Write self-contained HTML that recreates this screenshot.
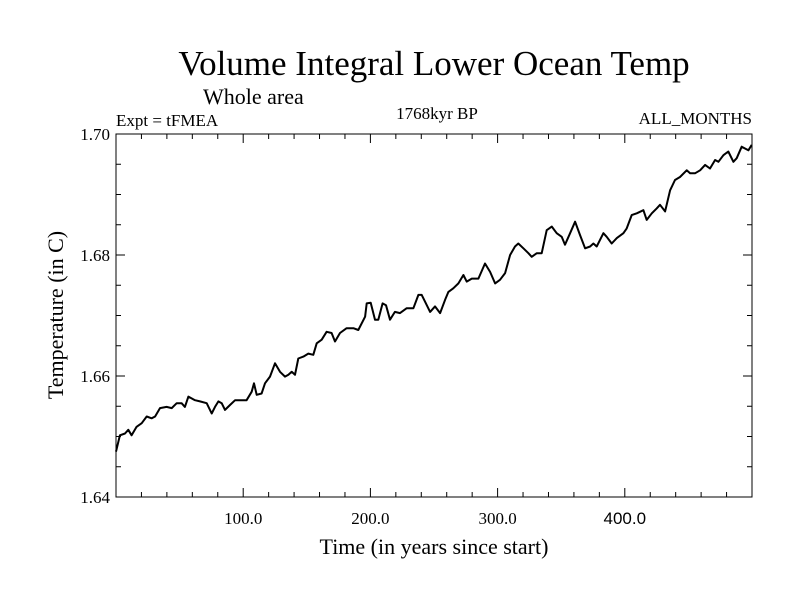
<!DOCTYPE html>
<html><head><meta charset="utf-8"><style>
body{margin:0;background:#fff;}
svg{display:block;}
text{font-family:"Liberation Serif",serif;fill:#000;}
</style></head><body>
<svg id="chart" width="800" height="600" viewBox="0 0 800 600">
<text x="434" y="75" font-size="35" text-anchor="middle">Volume Integral Lower Ocean Temp</text>
<text x="203" y="104" font-size="22">Whole area</text>
<text x="116" y="126" font-size="17">Expt = tFMEA</text>
<text x="437" y="119" font-size="17" text-anchor="middle">1768kyr BP</text>
<text x="752" y="124" font-size="17" text-anchor="end">ALL_MONTHS</text>
<text x="434" y="554" font-size="22" text-anchor="middle">Time (in years since start)</text>
<text transform="translate(63,315) rotate(-90)" font-size="22" text-anchor="middle">Temperature (in C)</text>
<g id="axes"></g>
<path id="line" fill="none" stroke="#000" stroke-width="2" stroke-linejoin="round"></path>
<rect x="116" y="134" width="636" height="363" fill="none" stroke="#000" stroke-width="1"></rect>
</svg>
<script>
const years=[0,3.1,7.1,9.7,12.3,16.2,20.2,24.1,28.0,30.7,34.6,39.8,43.8,47.7,51.6,54.2,56.9,62.1,66.0,71.3,75.2,77.8,80.5,83.1,85.7,89.6,93.6,97.5,102.7,106.7,108.5,110.6,114.5,117.1,121.1,125.0,128.9,132.9,135.5,138.1,140.7,143.3,147.3,151.2,155.1,157.8,161.7,165.6,169.5,172.2,176.1,181.3,186.6,190.5,195.8,197.1,200.2,203.6,206.2,209.6,212.3,215.4,219.3,223.3,228.5,233.8,237.7,240.3,242.9,246.9,250.8,254.8,258.7,261.3,265.2,269.2,273.1,275.7,279.7,284.9,290.1,294.1,298.0,301.9,305.9,309.8,313.7,316.3,320.3,324.2,326.8,330.8,334.7,338.6,342.6,346.5,350.4,353.0,357.0,360.9,364.8,368.8,372.7,375.3,377.9,380.5,383.2,385.8,389.7,393.7,398.9,401.5,405.4,409.4,414.6,417.2,421.2,425.1,427.7,431.7,435.6,439.5,443.4,448.7,451.3,455.2,459.2,463.1,467.0,471.0,473.6,477.5,481.4,485.4,488.0,491.9,494.5,497.2,499.8];
const temps=[1.6475,1.6502,1.6505,1.6511,1.6502,1.6516,1.6522,1.6533,1.6530,1.6533,1.6547,1.6549,1.6547,1.6555,1.6555,1.6549,1.6566,1.6560,1.6558,1.6555,1.6538,1.6549,1.6558,1.6555,1.6544,1.6552,1.6560,1.6560,1.6560,1.6574,1.6588,1.6569,1.6571,1.6588,1.6599,1.6621,1.6607,1.6599,1.6602,1.6607,1.6602,1.6629,1.6632,1.6637,1.6635,1.6654,1.6660,1.6673,1.6671,1.6657,1.6671,1.6679,1.6679,1.6676,1.6698,1.6720,1.6721,1.6693,1.6693,1.6720,1.6717,1.6693,1.6706,1.6704,1.6712,1.6712,1.6734,1.6734,1.6723,1.6706,1.6715,1.6704,1.6726,1.6739,1.6745,1.6753,1.6767,1.6756,1.6761,1.6761,1.6786,1.6772,1.6753,1.6759,1.6770,1.6800,1.6814,1.6819,1.6811,1.6803,1.6797,1.6803,1.6803,1.6841,1.6847,1.6836,1.6830,1.6817,1.6836,1.6855,1.6833,1.6811,1.6814,1.6819,1.6814,1.6825,1.6836,1.6830,1.6819,1.6828,1.6836,1.6844,1.6866,1.6869,1.6874,1.6858,1.6869,1.6877,1.6883,1.6872,1.6907,1.6924,1.6929,1.6940,1.6935,1.6935,1.6940,1.6949,1.6943,1.6957,1.6954,1.6965,1.6971,1.6954,1.6960,1.6979,1.6976,1.6973,1.6982];
const xTickValues=[100,200,300,400];
const xTickLabels=["100.0","200.0","300.0","400.0"];
const yTickValues=[1.64,1.66,1.68,1.70];
const yTickLabels=["1.64","1.66","1.68","1.70"];
const X0=116,X1=752,Y0=497,Y1=134,XMIN=0,XMAX=500,YMIN=1.64,YMAX=1.70;
const sx=v=>X0+(v-XMIN)/(XMAX-XMIN)*(X1-X0);
const sy=v=>Y0-(v-YMIN)/(YMAX-YMIN)*(Y0-Y1);
const NS="http://www.w3.org/2000/svg";
const g=document.getElementById('axes');
function ln(x1,y1,x2,y2,name){const l=document.createElementNS(NS,'line');
l.setAttribute('x1',x1);l.setAttribute('y1',y1);l.setAttribute('x2',x2);l.setAttribute('y2',y2);
l.setAttribute('stroke','#000');l.setAttribute('stroke-width','1');


g.appendChild(l);}
for(let v=20;v<XMAX;v+=20){const x=sx(v);const major=v%100===0;const L=major?9:5;
ln(x,Y0,x,Y0-L,'x-tick');ln(x,Y1,x,Y1+L,'x-tick-top');}
for(let i=1;i<12;i++){const v=YMIN+i*0.005;const y=sy(v);const major=i%4===0;const L=major?9:5;
ln(X0,y,X0+L,y,'y-tick');ln(X1,y,X1-L,y,'y-tick-right');}
xTickValues.forEach((v,i)=>{const t=document.createElementNS(NS,'text');
t.setAttribute('x',sx(v));t.setAttribute('y',524);t.setAttribute('font-size','17');t.setAttribute('text-anchor','middle');
if(i===3)t.setAttribute('style','font-family:"Liberation Sans",sans-serif');
t.textContent=xTickLabels[i];


g.appendChild(t);});
yTickValues.forEach((v,i)=>{const t=document.createElementNS(NS,'text');
t.setAttribute('x',110);t.setAttribute('y',sy(v)+6);t.setAttribute('font-size','17');t.setAttribute('text-anchor','end');
t.textContent=yTickLabels[i];


g.appendChild(t);});
document.getElementById('line').setAttribute('d',years.map((y,i)=>(i?'L':'M')+sx(y).toFixed(1)+','+sy(temps[i]).toFixed(1)).join(''));
</script>
</body></html>
